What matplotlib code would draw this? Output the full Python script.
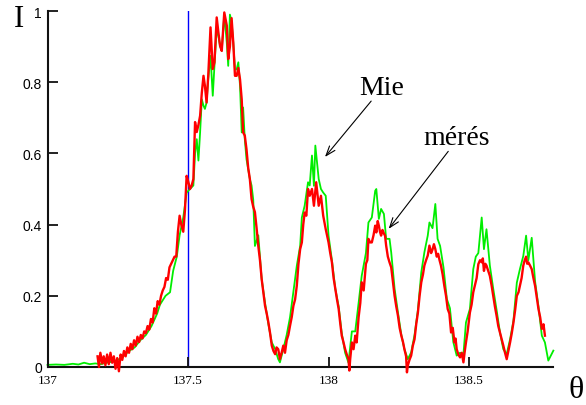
import matplotlib
matplotlib.use("Agg")
import matplotlib.pyplot as plt

# Mie theory curve (green)
mie_theta = [137.000, 137.030, 137.060, 137.090, 137.110, 137.130, 137.150, 137.170, 137.190, 137.210,
             137.230, 137.250, 137.270, 137.290, 137.310, 137.330, 137.350, 137.370, 137.390, 137.400,
             137.420, 137.436, 137.447, 137.460, 137.470, 137.483, 137.495, 137.507, 137.519, 137.525,
             137.531, 137.537, 137.543, 137.549, 137.555, 137.560, 137.566, 137.572, 137.580, 137.588,
             137.594, 137.602, 137.608, 137.614, 137.620, 137.629, 137.638, 137.643, 137.649, 137.655,
             137.661, 137.667, 137.673, 137.679, 137.685, 137.691, 137.696, 137.702, 137.708, 137.720,
             137.726, 137.732, 137.738, 137.750, 137.762, 137.774, 137.786, 137.798, 137.810, 137.821,
             137.827, 137.839, 137.851, 137.863, 137.873, 137.887, 137.899, 137.905, 137.915, 137.927,
             137.933, 137.941, 137.948, 137.953, 137.960, 137.965, 137.973, 137.981, 137.990, 138.000,
             138.012, 138.024, 138.036, 138.047, 138.059, 138.071, 138.083, 138.095, 138.107, 138.118,
             138.133, 138.142, 138.154, 138.166, 138.170, 138.179, 138.187, 138.197, 138.205, 138.217,
             138.223, 138.235, 138.247, 138.259, 138.270, 138.282, 138.294, 138.306, 138.318, 138.330,
             138.341, 138.353, 138.359, 138.370, 138.380, 138.388, 138.397, 138.409, 138.421, 138.432,
             138.444, 138.456, 138.468, 138.480, 138.489, 138.503, 138.515, 138.524, 138.533, 138.539,
             138.545, 138.553, 138.562, 138.574, 138.586, 138.598, 138.610, 138.622, 138.634, 138.646,
             138.658, 138.670, 138.681, 138.693, 138.703, 138.711, 138.723, 138.735, 138.747, 138.759,
             138.770, 138.782, 138.800]
mie_I = [0.006, 0.007, 0.006, 0.009, 0.007, 0.012, 0.008, 0.010, 0.008, 0.012,
         0.015, 0.020, 0.030, 0.045, 0.055, 0.075, 0.090, 0.115, 0.150, 0.175,
         0.200, 0.210, 0.270, 0.310, 0.370, 0.420, 0.490, 0.500, 0.510, 0.600,
         0.640, 0.580, 0.660, 0.752, 0.734, 0.725, 0.743, 0.810, 0.874, 0.762,
         0.846, 0.950, 0.930, 0.902, 0.888, 0.990, 0.910, 0.846, 0.990, 0.970,
         0.911, 0.836, 0.836, 0.856, 0.790, 0.659, 0.729, 0.640, 0.584, 0.528,
         0.510, 0.470, 0.340, 0.370, 0.247, 0.180, 0.120, 0.069, 0.050, 0.022,
         0.013, 0.050, 0.090, 0.140, 0.200, 0.284, 0.340, 0.420, 0.453, 0.519,
         0.510, 0.594, 0.509, 0.622, 0.566, 0.528, 0.500, 0.490, 0.481, 0.369,
         0.300, 0.220, 0.170, 0.095, 0.040, 0.012, 0.100, 0.100, 0.180, 0.256,
         0.320, 0.406, 0.420, 0.495, 0.500, 0.416, 0.444, 0.430, 0.360, 0.360,
         0.322, 0.220, 0.153, 0.090, 0.050, 0.022, 0.041, 0.090, 0.160, 0.266,
         0.322, 0.369, 0.406, 0.390, 0.458, 0.360, 0.340, 0.280, 0.191, 0.165,
         0.070, 0.032, 0.040, 0.036, 0.125, 0.163, 0.275, 0.310, 0.320, 0.369,
         0.420, 0.331, 0.387, 0.285, 0.220, 0.160, 0.097, 0.050, 0.036, 0.078,
         0.130, 0.237, 0.275, 0.312, 0.369, 0.300, 0.363, 0.240, 0.170, 0.088,
         0.069, 0.018, 0.046]

# measured curve (red)
meres_theta = [137.178, 137.183, 137.188, 137.195, 137.200, 137.206, 137.212, 137.218, 137.224, 137.230,
               137.236, 137.242, 137.248, 137.254, 137.260, 137.266, 137.272, 137.278, 137.284, 137.290,
               137.296, 137.302, 137.308, 137.314, 137.320, 137.326, 137.332, 137.338, 137.344, 137.350,
               137.356, 137.362, 137.368, 137.374, 137.380, 137.386, 137.392, 137.398, 137.404, 137.410,
               137.416, 137.422, 137.428, 137.434, 137.440, 137.446, 137.452, 137.458, 137.464, 137.470,
               137.476, 137.483, 137.489, 137.495, 137.501, 137.507, 137.513, 137.519, 137.525, 137.531,
               137.537, 137.543, 137.549, 137.555, 137.560, 137.566, 137.572, 137.580, 137.588, 137.594,
               137.602, 137.608, 137.614, 137.620, 137.629, 137.638, 137.643, 137.649, 137.655, 137.661,
               137.667, 137.673, 137.679, 137.685, 137.691, 137.696, 137.702, 137.708, 137.714, 137.720,
               137.726, 137.732, 137.738, 137.744, 137.750, 137.756, 137.762, 137.768, 137.774, 137.780,
               137.786, 137.792, 137.798, 137.804, 137.810, 137.815, 137.821, 137.827, 137.833, 137.839,
               137.845, 137.851, 137.857, 137.863, 137.869, 137.875, 137.881, 137.887, 137.893, 137.899,
               137.905, 137.910, 137.915, 137.921, 137.927, 137.933, 137.941, 137.948, 137.956, 137.960,
               137.965, 137.973, 137.981, 137.990, 138.000, 138.006, 138.012, 138.018, 138.024, 138.030,
               138.036, 138.042, 138.047, 138.053, 138.059, 138.065, 138.071, 138.074, 138.077, 138.083,
               138.089, 138.095, 138.100, 138.107, 138.113, 138.118, 138.125, 138.133, 138.138, 138.142,
               138.148, 138.154, 138.160, 138.166, 138.170, 138.175, 138.179, 138.183, 138.187, 138.192,
               138.197, 138.201, 138.205, 138.211, 138.217, 138.223, 138.229, 138.235, 138.241, 138.247,
               138.253, 138.259, 138.265, 138.270, 138.276, 138.279, 138.282, 138.288, 138.294, 138.300,
               138.306, 138.312, 138.318, 138.324, 138.330, 138.336, 138.341, 138.347, 138.353, 138.359,
               138.365, 138.370, 138.375, 138.380, 138.385, 138.390, 138.395, 138.400, 138.406, 138.412,
               138.418, 138.424, 138.430, 138.436, 138.442, 138.448, 138.452, 138.456, 138.462, 138.468,
               138.474, 138.480, 138.484, 138.489, 138.495, 138.503, 138.509, 138.515, 138.521, 138.527,
               138.533, 138.539, 138.545, 138.549, 138.553, 138.558, 138.562, 138.568, 138.574, 138.580,
               138.586, 138.592, 138.598, 138.604, 138.610, 138.616, 138.622, 138.628, 138.634, 138.640,
               138.646, 138.652, 138.658, 138.664, 138.670, 138.676, 138.681, 138.687, 138.693, 138.698,
               138.703, 138.707, 138.711, 138.717, 138.723, 138.729, 138.735, 138.741, 138.747, 138.753,
               138.759, 138.765, 138.770]
meres_I = [0.030, 0.000, 0.040, 0.010, 0.030, 0.005, 0.035, 0.008, 0.040, 0.012,
           0.030, -0.005, 0.025, -0.012, 0.035, 0.020, 0.045, 0.030, 0.055, 0.040,
           0.065, 0.050, 0.075, 0.060, 0.085, 0.070, 0.090, 0.080, 0.100, 0.095,
           0.115, 0.105, 0.135, 0.125, 0.165, 0.150, 0.185, 0.175, 0.200, 0.215,
           0.225, 0.250, 0.245, 0.280, 0.290, 0.300, 0.310, 0.310, 0.380, 0.425,
           0.400, 0.380, 0.440, 0.537, 0.520, 0.500, 0.510, 0.528, 0.688, 0.660,
           0.680, 0.706, 0.770, 0.818, 0.790, 0.743, 0.820, 0.954, 0.837, 0.856,
           0.982, 0.940, 0.902, 0.888, 0.996, 0.959, 0.865, 0.900, 0.980, 0.911,
           0.818, 0.818, 0.840, 0.808, 0.752, 0.659, 0.650, 0.612, 0.560, 0.528,
           0.472, 0.450, 0.435, 0.390, 0.340, 0.300, 0.247, 0.210, 0.172, 0.150,
           0.125, 0.095, 0.060, 0.045, 0.036, 0.055, 0.050, 0.022, 0.040, 0.060,
           0.040, 0.075, 0.090, 0.116, 0.140, 0.172, 0.190, 0.228, 0.290, 0.331,
           0.350, 0.400, 0.434, 0.425, 0.500, 0.481, 0.500, 0.453, 0.519, 0.490,
           0.453, 0.481, 0.425, 0.387, 0.350, 0.320, 0.294, 0.250, 0.220, 0.190,
           0.163, 0.120, 0.088, 0.070, 0.050, 0.035, 0.022, -0.010, 0.022, 0.069,
           0.050, 0.088, 0.069, 0.140, 0.180, 0.238, 0.215, 0.290, 0.300, 0.360,
           0.350, 0.350, 0.370, 0.397, 0.378, 0.410, 0.397, 0.380, 0.369, 0.385,
           0.375, 0.369, 0.341, 0.310, 0.294, 0.280, 0.240, 0.200, 0.170, 0.144,
           0.110, 0.088, 0.070, 0.050, 0.030, -0.015, 0.004, 0.020, 0.032, 0.060,
           0.078, 0.120, 0.153, 0.200, 0.238, 0.260, 0.285, 0.300, 0.313, 0.341,
           0.320, 0.330, 0.345, 0.331, 0.310, 0.318, 0.300, 0.285, 0.260, 0.228,
           0.200, 0.163, 0.150, 0.097, 0.110, 0.069, 0.080, 0.050, 0.035, 0.027,
           0.040, 0.013, 0.040, 0.069, 0.100, 0.153, 0.175, 0.210, 0.230, 0.250,
           0.289, 0.300, 0.294, 0.305, 0.270, 0.290, 0.285, 0.270, 0.256, 0.230,
           0.200, 0.170, 0.144, 0.115, 0.097, 0.080, 0.060, 0.040, 0.022, 0.045,
           0.069, 0.095, 0.125, 0.160, 0.200, 0.210, 0.228, 0.250, 0.285, 0.300,
           0.310, 0.290, 0.294, 0.285, 0.275, 0.250, 0.228, 0.195, 0.163, 0.140,
           0.107, 0.120, 0.088]

marker_theta = 137.5
x_ticks = [137, 137.5, 138, 138.5]
x_ticklabels = ["137", "137.5", "138", "138.5"]
y_ticks = [0, 0.2, 0.4, 0.6, 0.8, 1.0]
y_ticklabels = ["0", "0.2", "0.4", "0.6", "0.8", "1"]

serif = "Liberation Serif"
sans = "Liberation Sans"

fig = plt.figure(figsize=(5.86, 4.06), dpi=100)
ax = fig.add_axes([0.0811, 0.0936, 0.8632, 0.8768])

ax.plot(mie_theta, mie_I, color="#00ee00", lw=1.3, clip_on=False, zorder=2)
ax.plot(meres_theta, meres_I, color="#ff0000", lw=1.7, clip_on=False, zorder=3)
ax.plot([marker_theta, marker_theta], [0, 1], color="#0000ff", lw=1.0, zorder=1)

ax.set_xlim(137, 138.8)
ax.set_ylim(0, 1)
for s in ("top", "right"):
    ax.spines[s].set_visible(False)
for s in ("left", "bottom"):
    ax.spines[s].set_linewidth(1.5)
    ax.spines[s].set_color("#111111")

ax.set_xticks(x_ticks)
ax.set_xticklabels(x_ticklabels, fontfamily=serif, fontsize=9.5)
ax.set_yticks(y_ticks)
ax.set_yticklabels(y_ticklabels, fontfamily=sans, fontsize=10)
ax.tick_params(axis="x", direction="in", length=7, width=1.3, pad=5, color="#111111")
ax.tick_params(axis="y", direction="in", length=7, width=1.3, pad=4, color="#111111")

fig.text(0.0316, 0.951, "I", fontfamily=serif, fontsize=22, ha="center", va="center")
# the theta sits against the right edge (cut in the original); keep it inside
fig.text(0.997, 0.039, "θ", fontfamily=serif, fontsize=23, ha="right", va="center")

ax.text(138.190, 0.767, "Mie", fontfamily=serif, fontsize=20, ha="center", va="baseline")
ax.text(138.454, 0.626, "mérés", fontfamily=serif, fontsize=20, ha="center", va="baseline")
arrow = dict(arrowstyle="->,head_length=0.7,head_width=0.25", lw=0.8, color="black")
ax.annotate("", xy=(137.981, 0.584), xytext=(138.158, 0.753), arrowprops=arrow)
ax.annotate("", xy=(138.208, 0.382), xytext=(138.432, 0.612), arrowprops=arrow)

fig.savefig("out.png", dpi=100)
